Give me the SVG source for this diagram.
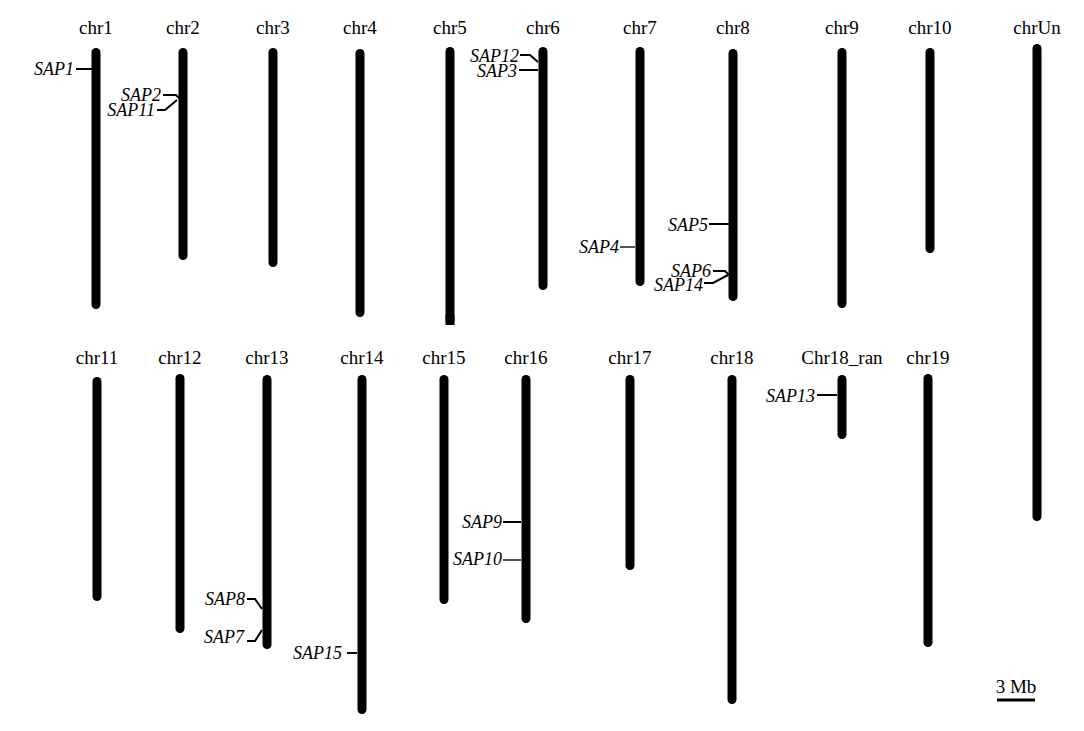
<svg xmlns="http://www.w3.org/2000/svg" width="1084" height="731" viewBox="0 0 1084 731">
<style>
.lab{font-family:"Liberation Serif","Times New Roman",serif;font-size:19px;fill:#000;text-anchor:middle}
.sap{font-family:"Liberation Serif","Times New Roman",serif;font-size:18px;font-style:italic;fill:#000;text-anchor:end}
.chr{fill:#000}
.tk{stroke:#000;stroke-width:2;fill:none}
.tkg{stroke:#555;stroke-width:2;fill:none}
</style>
<rect width="1084" height="731" fill="#fff"/>
<g id="chr1"><text class="lab" x="96" y="34">chr1</text><rect class="chr" x="91.5" y="48" width="9" height="261" rx="4.5"/></g>
<g id="chr2"><text class="lab" x="183" y="34">chr2</text><rect class="chr" x="178.5" y="48" width="9" height="212" rx="4.5"/></g>
<g id="chr3"><text class="lab" x="273" y="34">chr3</text><rect class="chr" x="268.5" y="48" width="9" height="219" rx="4.5"/></g>
<g id="chr4"><text class="lab" x="360" y="34">chr4</text><rect class="chr" x="355.5" y="49" width="9" height="268" rx="4.5"/></g>
<g id="chr5"><text class="lab" x="450" y="34">chr5</text><rect class="chr" x="445.5" y="47" width="9" height="278" rx="4.5"/><rect class="chr" x="445.5" y="315" width="9" height="10"/></g>
<g id="chr6"><text class="lab" x="543" y="34">chr6</text><rect class="chr" x="538.5" y="47" width="9" height="243" rx="4.5"/></g>
<g id="chr7"><text class="lab" x="640" y="34">chr7</text><rect class="chr" x="635.5" y="47" width="9" height="239" rx="4.5"/></g>
<g id="chr8"><text class="lab" x="733" y="34">chr8</text><rect class="chr" x="728.5" y="49" width="9" height="252" rx="4.5"/></g>
<g id="chr9"><text class="lab" x="842" y="34">chr9</text><rect class="chr" x="837.5" y="48" width="9" height="260" rx="4.5"/></g>
<g id="chr10"><text class="lab" x="930" y="34">chr10</text><rect class="chr" x="925.5" y="48" width="9" height="205" rx="4.5"/></g>
<g id="chrUn"><text class="lab" x="1037" y="34">chrUn</text><rect class="chr" x="1032.5" y="44" width="9" height="477" rx="4.5"/></g>
<g id="chr11"><text class="lab" x="97" y="364">chr11</text><rect class="chr" x="92.5" y="377" width="9" height="224" rx="4.5"/></g>
<g id="chr12"><text class="lab" x="180" y="364">chr12</text><rect class="chr" x="175.5" y="374" width="9" height="259" rx="4.5"/></g>
<g id="chr13"><text class="lab" x="267" y="364">chr13</text><rect class="chr" x="262.5" y="375" width="9" height="274" rx="4.5"/></g>
<g id="chr14"><text class="lab" x="362" y="364">chr14</text><rect class="chr" x="357.5" y="375" width="9" height="339" rx="4.5"/></g>
<g id="chr15"><text class="lab" x="444" y="364">chr15</text><rect class="chr" x="439.5" y="375" width="9" height="229" rx="4.5"/></g>
<g id="chr16"><text class="lab" x="526" y="364">chr16</text><rect class="chr" x="521.5" y="375" width="9" height="248" rx="4.5"/></g>
<g id="chr17"><text class="lab" x="630" y="364">chr17</text><rect class="chr" x="625.5" y="375" width="9" height="195" rx="4.5"/></g>
<g id="chr18"><text class="lab" x="732" y="364">chr18</text><rect class="chr" x="727.5" y="375" width="9" height="329" rx="4.5"/></g>
<g id="chr18_ran"><text class="lab" x="842" y="364">Chr18_ran</text><rect class="chr" x="837.5" y="375" width="9" height="64" rx="4.5"/></g>
<g id="chr19"><text class="lab" x="928" y="364">chr19</text><rect class="chr" x="923.5" y="374" width="9" height="273" rx="4.5"/></g>
<g id="connectors">
<path class="tk" d="M76 69H92"/>
<path class="tk" d="M163 95H176L181 100"/>
<path class="tk" d="M157 110H165L177 100"/>
<path class="tk" d="M520 55H530L538 62"/>
<path class="tk" d="M519 70H538"/>
<path class="tkg" d="M620 247H635"/>
<path class="tk" d="M709 224H729"/>
<path class="tk" d="M713 271H725L729 275"/>
<path class="tk" d="M704 283H713L728 275"/>
<path class="tk" d="M247 599H255L262 609"/>
<path class="tk" d="M247 641H255L262 630"/>
<path class="tk" d="M347 653H357"/>
<path class="tk" d="M503 522H521"/>
<path class="tkg" d="M503 560H521"/>
<path class="tk" d="M817 395H837"/>
<path d="M997 700H1035" stroke="#000" stroke-width="3"/>
</g>
<g id="labels">
<text class="sap" x="74" y="75">SAP1</text>
<text class="sap" x="161" y="101">SAP2</text>
<text class="sap" x="155" y="116">SAP11</text>
<text class="sap" x="519" y="62">SAP12</text>
<text class="sap" x="517" y="77">SAP3</text>
<text class="sap" x="619" y="253">SAP4</text>
<text class="sap" x="708" y="231">SAP5</text>
<text class="sap" x="711" y="277">SAP6</text>
<text class="sap" x="703" y="291">SAP14</text>
<text class="sap" x="245" y="605">SAP8</text>
<text class="sap" x="244" y="643">SAP7</text>
<text class="sap" x="342" y="659">SAP15</text>
<text class="sap" x="502" y="528">SAP9</text>
<text class="sap" x="502" y="565">SAP10</text>
<text class="sap" x="815" y="402">SAP13</text>
<text class="lab" x="1016" y="693">3 Mb</text>
</g>
</svg>
